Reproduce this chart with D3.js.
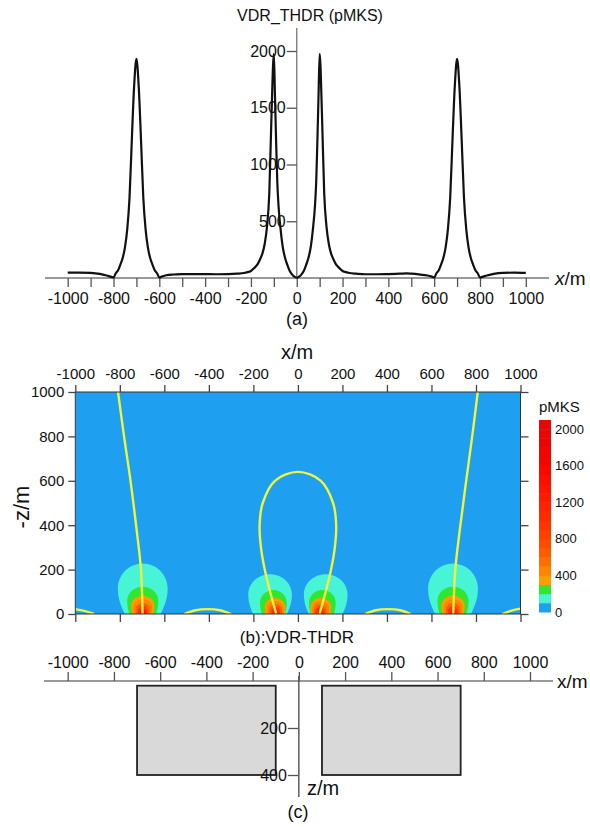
<!DOCTYPE html>
<head>
    <meta charset="utf-8">
    <script src="https://cdnjs.cloudflare.com/ajax/libs/d3/7.9.0/d3.js"></script>
    <style>
        body { margin: 0; background: #fff; }
        text { font-family: "Liberation Sans", Arial, sans-serif; fill: #111; }
    </style>
</head>
<body>
    <div id="chart"></div>
</body>
<script>

// profile (a): x position (m) and VDR_THDR value (pMKS)
const profileX = [-1000, -950, -900, -860, -830, -810, -800, -790, -780, -770, -760, -750, -740, -730, -720, -710,
    -700, -690, -680, -670, -660, -650, -640, -630, -620, -610, -600, -590, -570, -540, -500, -450, -400, -350,
    -300, -260, -230, -210, -200, -190, -180, -170, -160, -150, -140, -130, -120, -110, -100, -95, -90, -85, -80,
    -70, -60, -50, -40, -30, -20, -10, 0,
    10, 20, 30, 40, 50, 60, 70, 80, 85, 90, 95, 100, 110, 120, 130, 140, 150, 160, 170, 180, 190, 200, 210, 230,
    260, 300, 350, 400, 450, 480, 500, 540, 570, 590, 600, 610, 620, 630, 640, 650, 660, 670, 680, 690, 700, 710,
    720, 730, 740, 750, 760, 770, 780, 790, 800, 810, 830, 860, 900, 950, 1000]
const profileV = [47, 48, 45, 36, 22, 10, 5, 42, 68, 118, 176, 270, 430, 710, 1220, 1690,
    1930, 1690, 1220, 710, 430, 270, 176, 118, 68, 42, 5, 12, 24, 31, 34, 35, 34, 33,
    34, 38, 44, 54, 62, 80, 100, 125, 165, 215, 300, 450, 740, 1450, 1975, 1600, 1200, 850, 650,
    420, 260, 170, 110, 60, 30, 12, 2,
    12, 30, 60, 110, 170, 260, 420, 650, 850, 1200, 1600, 1975, 1450, 740, 450, 300, 215, 165, 125, 100, 80, 62, 54, 44,
    38, 33, 33, 35, 38, 40, 38, 30, 22, 12, 5, 42, 68, 118, 176, 270, 430, 710, 1220, 1690, 1930, 1690,
    1220, 710, 430, 270, 176, 118, 68, 42, 5, 10, 22, 36, 45, 47, 45]

// colour bands of the map (b), one per 100 pMKS from 0 to 2100
const bandLevels = d3.range(0, 2100, 100)
const bandColors = ["#1f9ff0", "#48f4d6", "#30e62e", "#ff9d00", "#ff8400", "#ff6e00", "#ff5c00", "#ff4c00",
    "#ff4000", "#ff3400", "#ff2a00", "#ff2200", "#ff1a00", "#ff1400", "#ff0e00", "#fa0800", "#f50500",
    "#f00404", "#eb0404", "#e80606", "#e60808"]
const colorbarTicks = [0, 400, 800, 1200, 1600, 2000]

// contour rings: [level, outward shift, half width, z of widest, top z, half width at surface]
const ringsOuter = [
    [100, 0, 112, 115, 228, 80], [200, 0, 70, 60, 123, 60], [300, 0, 52, 38, 82, 48],
    [400, 0, 42, 28, 66, 40], [600, 0, 32, 18, 50, 30], [900, 0, 22, 10, 36, 21], [1300, 0, 13, 5, 22, 13]
]
const ringsInner = [
    [100, 25, 98, 88, 179, 76], [200, 10, 60, 50, 108, 52], [300, 3, 46, 32, 72, 44],
    [400, 2, 38, 24, 58, 36], [600, 0, 29, 15, 44, 28], [900, 0, 20, 8, 32, 19], [1300, 0, 12, 4, 20, 12]
]
const outerBodies = [[-697, -1], [697, 1]]
const innerBodies = [[-100, -1], [100, 1]]

// zero lines (yellow) as [x, z] points
const zeroLines = [
    [[-808, 1000], [-781, 800], [-752, 600], [-727, 400], [-705, 200], [-698, 0]],
    [[808, 1000], [783, 800], [756, 600], [730, 400], [707, 200], [698, 0]],
    [[-97, 0], [-125, 100], [-149, 200], [-166, 300], [-172, 400], [-158, 500], [-103, 600], [0, 640],
     [103, 600], [158, 500], [172, 400], [166, 300], [149, 200], [125, 100], [97, 0]],
    [[-1000, 22], [-960, 14], [-915, 0]],
    [[-510, 0], [-460, 17], [-405, 22], [-350, 17], [-300, 0]],
    [[302, 0], [350, 17], [405, 22], [460, 17], [508, 0]],
    [[918, 0], [960, 15], [1000, 24]]
]

// model (c): two blocks [x0, x1, zTop, zBottom]
const blocks = [[-700, -100, 20, 400], [100, 700, 20, 400]]

const plain = d => String(d)
const fontFamily = "'Liberation Sans', Arial, sans-serif"

const svg = d3.select("#chart").append("svg")
    .attr("width", 590).attr("height", 827)

// ---------- (a) profile ----------
const xA = d3.scaleLinear().domain([-1000, 1000]).range([67.7, 525.8])
const yA = d3.scaleLinear().domain([0, 2000]).range([278, 51])

const gA = svg.append("g")
gA.append("line").attr("x1", 45).attr("x2", 549).attr("y1", 278).attr("y2", 278)
    .attr("stroke", "#777").attr("stroke-width", 1.3)
gA.append("line").attr("x1", xA(0)).attr("x2", xA(0)).attr("y1", 278).attr("y2", 28)
    .attr("stroke", "#777").attr("stroke-width", 1.3)

const axA = gA.append("g").attr("transform", "translate(0,278)")
    .call(d3.axisBottom(xA).tickValues(d3.range(-1000, 1001, 100)).tickSize(9).tickPadding(6)
        .tickFormat(d => d % 200 === 0 ? plain(d) : ""))
const ayA = gA.append("g").attr("transform", `translate(${xA(0)},0)`)
    .call(d3.axisLeft(yA).tickValues([500, 1000, 1500, 2000]).tickSize(10).tickPadding(1).tickFormat(plain))
for (const ax of [axA, ayA]) {
    ax.select(".domain").remove()
    ax.selectAll(".tick line").attr("stroke", "#555").attr("stroke-width", 1.3)
    ax.selectAll(".tick text").style("font-size", "16px").attr("fill", "#111").style("font-family", fontFamily)
}

const profile = profileX.map((x, i) => ({ x: x, v: profileV[i] }))
gA.append("path").datum(profile)
    .attr("fill", "none").attr("stroke", "#111").attr("stroke-width", 2.2)
    .attr("d", d3.line().x(d => xA(d.x)).y(d => yA(d.v)).curve(d3.curveMonotoneX))

gA.append("text").attr("x", 310).attr("y", 21).attr("text-anchor", "middle")
    .style("font-size", "16px").text("VDR_THDR (pMKS)")
const xmA = gA.append("text").attr("x", 555).attr("y", 285).style("font-size", "19px")
xmA.append("tspan").style("font-style", "italic").text("x")
xmA.append("tspan").text("/m")
gA.append("text").attr("x", 297).attr("y", 325).attr("text-anchor", "middle")
    .style("font-size", "18px").text("(a)")

// ---------- (b) contour map ----------
const xB = d3.scaleLinear().domain([-1000, 1000]).range([75.3, 520.5])
const zB = d3.scaleLinear().domain([0, 1000]).range([614, 392])
const color = d3.scaleThreshold().domain(bandLevels.slice(1)).range(bandColors)

const gB = svg.append("g")
svg.append("defs").append("clipPath").attr("id", "plotClip")
    .append("rect").attr("x", xB(-1000)).attr("y", zB(1000))
    .attr("width", xB(1000) - xB(-1000)).attr("height", zB(0) - zB(1000))

const field = gB.append("g").attr("clip-path", "url(#plotClip)")
field.append("rect").attr("x", xB(-1000)).attr("y", zB(1000))
    .attr("width", xB(1000) - xB(-1000)).attr("height", zB(0) - zB(1000))
    .attr("fill", bandColors[0])

// egg shaped ring: tapered lower part, rounded cap on top
function ringPath(c, hw, zw, top, hw0) {
    const k = 0.5523
    const P = (x, z) => [xB(x), zB(z)]
    const p = d3.path()
    p.moveTo(...P(c - hw0, -2))
    p.lineTo(...P(c - hw0, 0))
    p.bezierCurveTo(...P(c - hw0 - (hw - hw0) * 0.55, zw * 0.3), ...P(c - hw, zw * 0.6), ...P(c - hw, zw))
    p.bezierCurveTo(...P(c - hw, zw + k * (top - zw)), ...P(c - k * hw, top), ...P(c, top))
    p.bezierCurveTo(...P(c + k * hw, top), ...P(c + hw, zw + k * (top - zw)), ...P(c + hw, zw))
    p.bezierCurveTo(...P(c + hw, zw * 0.6), ...P(c + hw0 + (hw - hw0) * 0.55, zw * 0.3), ...P(c + hw0, 0))
    p.lineTo(...P(c + hw0, -2))
    p.closePath()
    return p.toString()
}

function drawRings(bodies, rings) {
    bodies.forEach(([cx, side]) => {
        rings.forEach(([level, shift, hw, zw, top, hw0]) => {
            field.append("path").attr("d", ringPath(cx + side * shift, hw, zw, top, hw0))
                .attr("fill", color(level))
        })
    })
}
drawRings(outerBodies, ringsOuter)
drawRings(innerBodies, ringsInner)

const zeroLine = d3.line().x(p => xB(p[0])).y(p => zB(p[1])).curve(d3.curveCatmullRom.alpha(0.5))
field.selectAll(".zero").data(zeroLines).join("path")
    .attr("fill", "none").attr("stroke", "#f2f43c").attr("stroke-width", 2.4)
    .attr("d", zeroLine)

gB.append("rect").attr("x", xB(-1000)).attr("y", zB(1000))
    .attr("width", xB(1000) - xB(-1000)).attr("height", zB(0) - zB(1000))
    .attr("fill", "none").attr("stroke", "#333").attr("stroke-width", 1)

const ticks200 = d3.range(-1000, 1001, 200)
const axes = [
    gB.append("g").attr("transform", `translate(0,${zB(1000)})`)
        .call(d3.axisTop(xB).tickValues(ticks200).tickSize(7).tickPadding(6).tickFormat(plain)),
    gB.append("g").attr("transform", `translate(0,${zB(0)})`)
        .call(d3.axisBottom(xB).tickValues(ticks200).tickSize(8).tickFormat("")),
    gB.append("g").attr("transform", `translate(${xB(-1000)},0)`)
        .call(d3.axisLeft(zB).tickValues(d3.range(0, 1001, 200)).tickSize(7).tickPadding(4).tickFormat(plain)),
    gB.append("g").attr("transform", `translate(${xB(1000)},0)`)
        .call(d3.axisRight(zB).tickValues(d3.range(0, 1001, 200)).tickSize(8).tickFormat(""))
]
axes.forEach(ax => {
    ax.select(".domain").remove()
    ax.selectAll(".tick line").attr("stroke", "#444").attr("stroke-width", 1.3)
    ax.selectAll(".tick text").style("font-size", "15px").attr("fill", "#111").style("font-family", fontFamily)
})

gB.append("text").attr("x", 297).attr("y", 359).attr("text-anchor", "middle")
    .style("font-size", "20px").text("x/m")
gB.append("text").attr("transform", "translate(29,507) rotate(-90)").attr("text-anchor", "middle")
    .style("font-size", "22px").text("-z/m")
gB.append("text").attr("x", 297).attr("y", 643).attr("text-anchor", "middle")
    .style("font-size", "17px").text("(b):VDR-THDR")

// colour bar
const cb = d3.scaleLinear().domain([0, 2100]).range([612, 420])
const gC = gB.append("g")
gC.selectAll("rect").data(bandLevels).join("rect")
    .attr("x", 539).attr("width", 12)
    .attr("y", d => cb(d + 100)).attr("height", d => cb(d) - cb(d + 100) + 0.5)
    .attr("fill", (d, i) => bandColors[i])
gC.selectAll(".cbl").data(colorbarTicks).join("text")
    .attr("x", 555).attr("y", d => cb(d)).attr("dy", "0.35em")
    .style("font-size", "13px").text(d => d)
gC.append("text").attr("x", 539).attr("y", 412).style("font-size", "15px").text("pMKS")

// ---------- (c) model ----------
const xC = d3.scaleLinear().domain([-1000, 1000]).range([67.7, 530])
const zC = d3.scaleLinear().domain([0, 400]).range([681, 775])
const gM = svg.append("g")

gM.selectAll(".block").data(blocks).join("rect")
    .attr("x", d => xC(d[0])).attr("width", d => xC(d[1]) - xC(d[0]))
    .attr("y", d => zC(d[2])).attr("height", d => zC(d[3]) - zC(d[2]))
    .attr("fill", "#d9d9d9").attr("stroke", "#222").attr("stroke-width", 1.8)

gM.append("line").attr("x1", 44).attr("x2", 553).attr("y1", zC(0)).attr("y2", zC(0))
    .attr("stroke", "#777").attr("stroke-width", 1.3)
gM.append("line").attr("x1", xC(0)).attr("x2", xC(0)).attr("y1", 676).attr("y2", 797)
    .attr("stroke", "#444").attr("stroke-width", 1.3)

const axC = [
    gM.append("g").attr("transform", `translate(0,${zC(0)})`)
        .call(d3.axisTop(xC).tickValues(ticks200).tickSize(9).tickPadding(4).tickFormat(plain)),
    gM.append("g").attr("transform", `translate(${xC(0)},0)`)
        .call(d3.axisLeft(zC).tickValues([200, 400]).tickSize(11).tickPadding(1).tickFormat(plain))
]
axC.forEach(ax => {
    ax.select(".domain").remove()
    ax.selectAll(".tick line").attr("stroke", "#555").attr("stroke-width", 1.3)
    ax.selectAll(".tick text").style("font-size", "16px").attr("fill", "#111").style("font-family", fontFamily)
})

gM.append("text").attr("x", 557).attr("y", 688).style("font-size", "19px").text("x/m")
gM.append("text").attr("x", 307).attr("y", 795).style("font-size", "20px").text("z/m")
gM.append("text").attr("x", 298).attr("y", 818).attr("text-anchor", "middle")
    .style("font-size", "18px").text("(c)")

</script>
